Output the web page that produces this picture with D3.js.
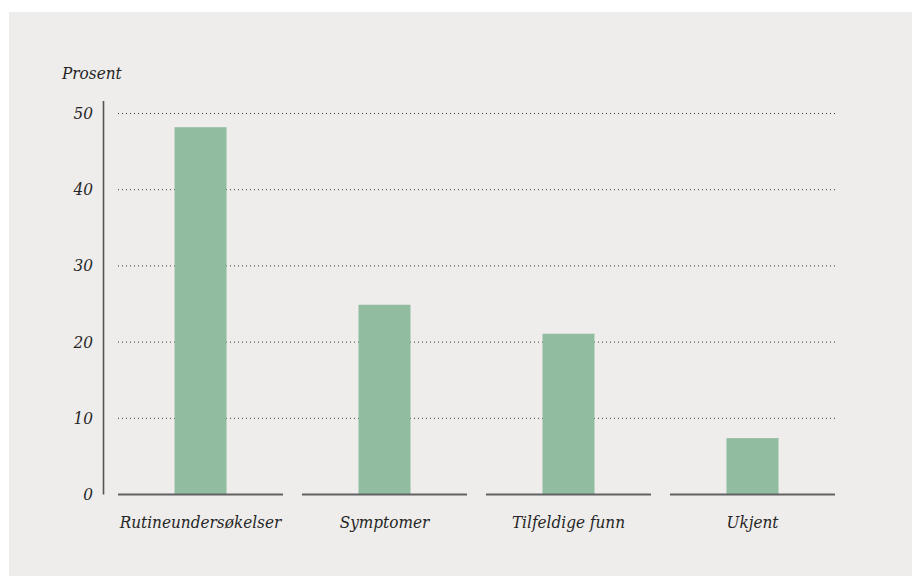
<!DOCTYPE html>
<html>
<head>
<meta charset="utf-8">
<script src="https://cdn.jsdelivr.net/npm/d3@7"></script>
<style>
  html, body { margin: 0; padding: 0; background: #ffffff; }
  svg { display: block; }
  text { font-family: "DejaVu Serif Condensed", "DejaVu Serif", serif; font-style: italic; fill: #262626; }
</style>
</head>
<body>
<svg id="chart" width="912" height="576"></svg>
<script>
// Årsak til at tilstanden ble oppdaget, prosent
const categories = ["Rutineundersøkelser", "Symptomer", "Tilfeldige funn", "Ukjent"];
const values = [48.2, 24.9, 21.1, 7.4];
const yTicks = [0, 10, 20, 30, 40, 50];
const yTitle = "Prosent";

const svg = d3.select("#chart");
const W = 912, H = 576;

// panel background
svg.append("rect")
  .attr("x", 9).attr("y", 12)
  .attr("width", W - 9).attr("height", H - 12)
  .attr("fill", "#eeedeb");

const plot = { left: 118, right: 835, top: 113.5, bottom: 494.5 };

const x = d3.scaleBand()
  .domain(categories)
  .range([plot.left, plot.right])
  .paddingInner(0.103)
  .paddingOuter(0);

const y = d3.scaleLinear()
  .domain([0, 50])
  .range([plot.bottom, plot.top]);

const barWidth = 52;

// dotted gridlines
svg.append("g")
  .selectAll("line")
  .data(yTicks.filter(d => d > 0))
  .join("line")
  .attr("x1", plot.left).attr("x2", plot.right)
  .attr("y1", d => y(d)).attr("y2", d => y(d))
  .attr("stroke", "#3a3a3a")
  .attr("stroke-width", 1)
  .attr("stroke-dasharray", "1,3");

// bars
svg.append("g")
  .selectAll("rect")
  .data(categories)
  .join("rect")
  .attr("x", d => x(d) + x.bandwidth() / 2 - barWidth / 2)
  .attr("y", (d, i) => y(values[i]))
  .attr("width", barWidth)
  .attr("height", (d, i) => y(0) - y(values[i]))
  .attr("fill", "#91bca0");

// baseline segments under each category
svg.append("g")
  .selectAll("line")
  .data(categories)
  .join("line")
  .attr("x1", d => x(d)).attr("x2", d => x(d) + x.bandwidth())
  .attr("y1", y(0)).attr("y2", y(0))
  .attr("stroke", "#626262")
  .attr("stroke-width", 2);

// vertical axis line
svg.append("line")
  .attr("x1", 103.5).attr("x2", 103.5)
  .attr("y1", 101).attr("y2", 494.5)
  .attr("stroke", "#555555")
  .attr("stroke-width", 1.6);

// y tick labels
svg.append("g")
  .selectAll("text")
  .data(yTicks)
  .join("text")
  .attr("x", 93)
  .attr("y", d => y(d) + 5.5)
  .attr("text-anchor", "end")
  .attr("font-size", 17)
  .text(d => d);

// y title
svg.append("text")
  .attr("x", 62).attr("y", 79)
  .attr("font-size", 17)
  .text(yTitle);

// category labels
svg.append("g")
  .selectAll("text")
  .data(categories)
  .join("text")
  .attr("x", d => x(d) + x.bandwidth() / 2)
  .attr("y", 528)
  .attr("text-anchor", "middle")
  .attr("font-size", 17)
  .text(d => d);
</script>
</body>
</html>
